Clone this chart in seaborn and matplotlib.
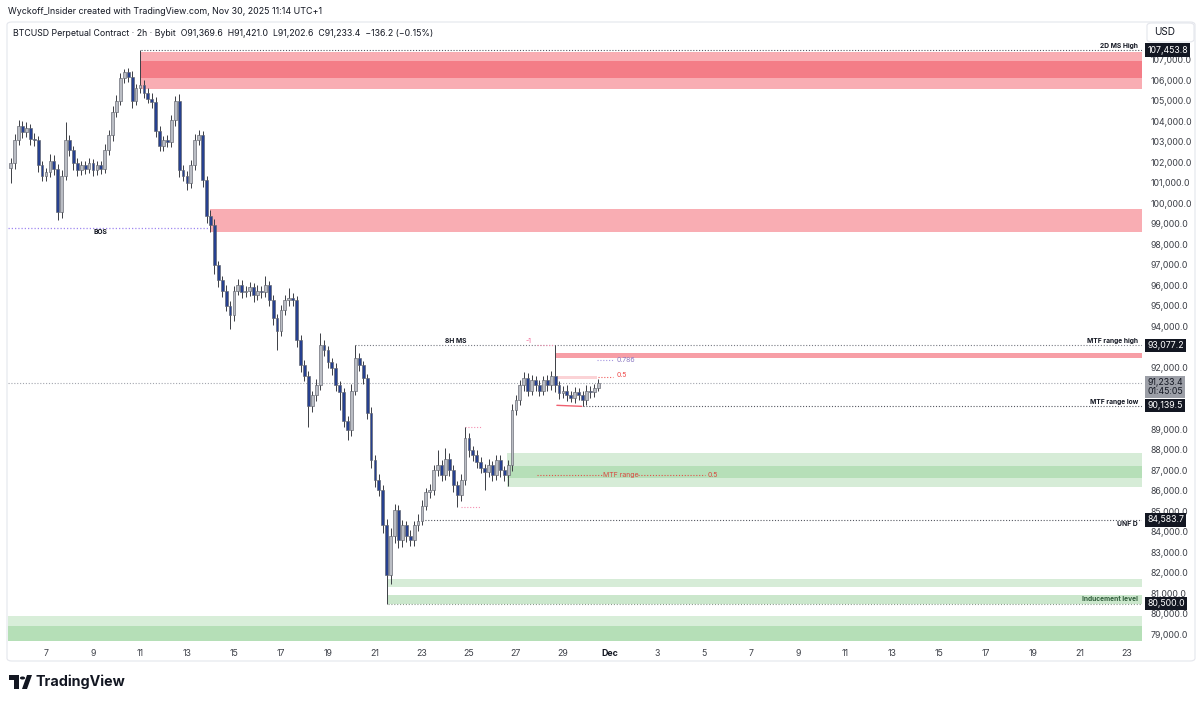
import numpy as np
import pandas as pd
import matplotlib
matplotlib.use("Agg")
import matplotlib.pyplot as plt
import matplotlib.dates as mdates
import matplotlib.transforms as mtransforms
from matplotlib.patches import FancyBboxPatch, Polygon, Circle
import seaborn as sns

# BTCUSD, resampled to 4h bars from the 2h chart
START = "2025-11-05 12:00"
FIRST_OPEN = 101700
closes = [
    101940, 103060, 103740, 103450, 103640, 103150, 103060, 101840, 101350, 101500,
    102080, 101690, 99550, 101350, 103060, 102570, 101940, 101600, 101840, 101690,
    101940, 101600, 101840, 101690, 102570, 103300, 104420, 105000, 106080, 106370,
    106170, 105000, 105590, 105780, 105390, 105100, 104910, 103540, 102810, 103060,
    102960, 104030, 105000, 101600, 101350, 101010, 101840, 103060, 103300, 101110,
    99400, 98920, 96970, 96240, 95750, 95020, 94540, 95750, 96000, 95660,
    95750, 95900, 95510, 95750, 95660, 96000, 95270, 94390, 93800, 94780,
    95270, 95410, 95270, 93320, 92100, 91610, 90150, 90640, 91130, 93080,
    92830, 92250, 91960, 91130, 90790, 89420, 88940, 90880, 92440, 92100,
    91470, 89810, 87480, 86500, 86020, 84310, 81880, 83820, 85040, 83580,
    84310, 83820, 83580, 84310, 84550, 85280, 85920, 86020, 86990, 87230,
    86750, 87570, 86990, 86260, 85770, 86500, 88550, 87960, 87720, 87380,
    87090, 86890, 87230, 86750, 87480, 86990, 86750, 87230, 89910, 90400,
    91130, 91470, 90880, 91370, 91130, 90880, 91370, 91130, 91610, 91130,
    90740, 90880, 90640, 90540, 90790, 90640, 90400, 90880, 90790, 90980,
    91233.4,
]
upper_wick = [
    250, 300, 320, 260, 300, 200, 250, 200, 240, 220,
    300, 250, 200, 250, 900, 260, 200, 240, 200, 220,
    250, 200, 240, 200, 300, 250, 300, 280, 260, 150,
    220, 260, 240, 1673.8, 220, 200, 250, 240, 200, 220,
    250, 260, 200, 300, 250, 220, 280, 300, 250, 200,
    200, 260, 300, 200, 240, 250, 200, 230, 300, 250,
    220, 250, 200, 260, 240, 480, 220, 250, 200, 260,
    250, 440, 220, 200, 260, 250, 230, 240, 300, 580,
    250, 230, 200, 250, 220, 200, 240, 300, 637.2, 250,
    220, 200, 260, 250, 300, 250, 300, 350, 320, 250,
    250, 230, 260, 240, 300, 250, 220, 300, 280, 730,
    250, 490, 260, 250, 220, 300, 530, 250, 230, 260,
    250, 220, 300, 240, 250, 260, 230, 280, 300, 250,
    260, 300, 240, 260, 230, 250, 220, 260, 240, 1467.2,
    200, 220, 250, 230, 260, 200, 220, 250, 210, 230,
    187.6,
]
lower_wick = [
    690, 250, 200, 280, 220, 300, 250, 300, 280, 250,
    220, 300, 390, 250, 220, 260, 300, 250, 220, 280,
    240, 280, 230, 260, 200, 220, 250, 240, 230, 220,
    260, 350, 240, 220, 280, 240, 260, 300, 280, 250,
    230, 220, 250, 300, 280, 350, 250, 220, 240, 300,
    350, 300, 400, 300, 320, 280, 640, 250, 230, 280,
    240, 260, 300, 220, 270, 230, 280, 300, 970, 250,
    230, 250, 280, 300, 320, 280, 1070, 300, 250, 220,
    260, 280, 300, 250, 880, 300, 490, 250, 220, 260,
    280, 300, 350, 300, 280, 350, 1380, 400, 350, 380,
    300, 320, 280, 260, 250, 240, 230, 280, 220, 260,
    280, 230, 260, 300, 585, 250, 220, 300, 280, 260,
    250, 870, 240, 280, 230, 300, 260, 500, 250, 220,
    230, 260, 280, 240, 250, 270, 230, 250, 240, 300,
    250, 230, 260, 240, 250, 230, 260.5, 220, 250, 230,
    120,
]

# key levels
HIGH_2D = 107453.8
MTF_HIGH = 93077.2
MTF_LOW = 90139.5
UNF_D = 84583.7
INDUCEMENT = 80500.0
LAST = 91233.4
BOS_LEVEL = 98795
MTF_MID = 86745
FIB_786 = 92390
FIB_05 = 91560
SWING_HI = 89080
SWING_LO = 85185

# zones: (start, low, high), start given as day of November
supply_outer = (11.04, 105560, 107380)
supply_inner = (11.04, 106100, 106930)
supply_2 = (13.98, 98600, 99720)
range_band = (28.70, 92480, 92700)
half_band = (28.74, 91420, 91600)
demand_outer = (26.62, 86180, 87840)
demand_inner = (26.62, 86620, 87210)
induce_1 = (21.55, 81310, 81700)
induce_2 = (21.55, 80484, 80920)
weekly_light = (79414, 79900)
weekly_dark = (78684, 79414)

price_ticks = [79000, 80000, 81000, 82000, 83000, 84000, 85000, 86000, 87000, 88000,
               89000, 92000, 94000, 95000, 96000, 97000, 98000, 99000, 100000, 101000,
               102000, 103000, 104000, 105000, 106000, 107000]
tick_days = [7, 9, 11, 13, 15, 17, 19, 21, 23, 25, 27, 29, 31, 33, 35, 37, 39, 41, 43, 45,
             47, 49, 51, 53]
tick_labels = ["7", "9", "11", "13", "15", "17", "19", "21", "23", "25", "27", "29", "Dec",
               "3", "5", "7", "9", "11", "13", "15", "17", "19", "21", "23"]

HEADER = "Wyckoff_Insider created with TradingView.com, Nov 30, 2025 11:14 UTC+1"
TITLE = ("BTCUSD Perpetual Contract \u00b7 2h \u00b7 Bybit  O91,369.6  H91,421.0  "
         "L91,202.6  C91,233.4  \u2212136.2 (\u22120.15%)")


def day(d):
    return mdates.date2num(pd.Timestamp("2025-11-01") + pd.Timedelta(days=d - 1))


sns.set_theme(style="white")
plt.rcParams["font.family"] = ["Inter", "DejaVu Sans"]
INK = "#131722"
W, H = 1200, 704

fig = plt.figure(figsize=(12, 7.04), dpi=100)
fx = lambda x: x / W
fy = lambda y: 1 - y / H
ax = fig.add_axes([fx(8), fy(643), (1142 - 8) / W, (643 - 42) / H])
XL, XR = day(5.383), day(53.64)
ax.set_xlim(XL, XR)
ax.set_ylim(78586, 107852)
blend = mtransforms.blended_transform_factory(ax.transAxes, ax.transData)


def zone(z, color, full=False):
    if full:
        x0, lo, hi = XL, z[0], z[1]
    else:
        x0, lo, hi = day(z[0]), z[1], z[2]
    ax.fill_between([x0, XR], lo, hi, color=color, lw=0, zorder=1)


def level(y, color, d0=None, d1=None, lw=0.8, ls=(0, (1, 1.6))):
    x0 = XL if d0 is None else day(d0)
    x1 = XR if d1 is None else day(d1)
    ax.plot([x0, x1], [y, y], color=color, lw=lw, ls=ls, zorder=3)


# zones
zone(supply_outer, "#f9adb3")
zone(supply_inner, "#f47d87")
zone(supply_2, "#f9adb3")
zone(range_band, "#f79ea6")
ax.fill_between([day(half_band[0]), day(30.45)], half_band[1], half_band[2], color="#fbd3d6", lw=0, zorder=1)
zone(demand_outer, "#d6ecd7")
zone(demand_inner, "#b6dfb8")
zone(induce_1, "#d6ecd7")
zone(induce_2, "#cbe7cc")
zone(weekly_light, "#d8eed9", full=True)
zone(weekly_dark, "#b5dfb7", full=True)

# levels
level(HIGH_2D, "#555861", d0=11.04)
level(BOS_LEVEL, "#9f86f0", d1=14.06, lw=0.9)
level(MTF_HIGH, "#777a83", d0=20.15)
level(LAST, "#a3a6ae")
level(MTF_LOW, "#555861", d0=29.85)
level(UNF_D, "#555861", d0=23.0)
level(INDUCEMENT, "#8a9a8c", d0=21.55)
level(MTF_HIGH, "#f48fb1", d0=27.89, d1=28.62)
level(FIB_786, "#a596e0", d0=30.45, d1=31.13)
level(FIB_05, "#ef5a5a", d0=30.5, d1=31.13)
level(MTF_MID, "#e0524a", d0=27.89, d1=30.7)
level(MTF_MID, "#e0524a", d0=32.2, d1=35.04)
level(SWING_HI, "#f48fb1", d0=24.83, d1=25.51)
level(SWING_LO, "#f48fb1", d0=24.66, d1=25.47)
ax.plot([day(28.74), day(29.8)], [90160, 90110], color="#f06070", lw=1.0, zorder=3)

# candles
times = pd.date_range(START, periods=len(closes), freq="4h")
t = mdates.date2num(times)
c = np.array(closes, float)
o = np.r_[FIRST_OPEN, c[:-1]]
hi = np.maximum(o, c) + np.array(upper_wick)
lo = np.minimum(o, c) - np.array(lower_wick)
up = c >= o
ax.vlines(t, lo, hi, color="#3b3d44", lw=0.7, zorder=4)
ax.bar(t, np.maximum(np.abs(c - o), 40), bottom=np.minimum(o, c), width=0.12,
       color=np.where(up, "#babdc4", "#26408f"), edgecolor="#62656e", linewidth=0.45, zorder=5)

# in-chart labels
small = dict(fontsize=4.8, fontweight="bold", color=INK, zorder=8)
ax.text(0.9965, HIGH_2D + 80, "2D MS High", transform=blend, ha="right", va="bottom", **small)
ax.text(0.9965, MTF_HIGH + 80, "MTF range high", transform=blend, ha="right", va="bottom", **small)
ax.text(0.9965, MTF_LOW + 60, "MTF range low", transform=blend, ha="right", va="bottom", **small)
ax.text(0.9965, UNF_D - 80, "UNF D", transform=blend, ha="right", va="top", **small)
ax.text(0.9965, INDUCEMENT + 60, "Inducement level", transform=blend, ha="right", va="bottom",
        fontsize=4.8, fontweight="bold", color="#2f5d3a", zorder=8)
ax.text(day(9.3), BOS_LEVEL - 60, "BOS", ha="center", va="top", **small)
ax.text(day(24.45), MTF_HIGH + 60, "8H MS", ha="center", va="bottom", **small)
ax.text(day(27.55), MTF_HIGH + 60, "-1", ha="center", va="bottom", fontsize=5, color="#f06292")
ax.text(day(31.3), FIB_786, "0.786", ha="left", va="center", fontsize=5, color="#8e7cc3")
ax.text(day(31.3), FIB_05 + 60, "0.5", ha="left", va="center", fontsize=5, color="#ef4a4a")
ax.text(day(31.45), MTF_MID, "MTF range", ha="center", va="center", fontsize=5, color="#d9483f")
ax.text(day(35.38), MTF_MID, "0.5", ha="center", va="center", fontsize=5, color="#d9483f")

# axes styling
for s in ax.spines.values():
    s.set_visible(False)
ax.grid(False)
ax.yaxis.tick_right()
ax.set_yticks(price_ticks)
ax.set_yticklabels([f"{v:,.1f}" for v in price_ticks])
ax.tick_params(axis="y", length=0, pad=6, labelsize=6.3, labelcolor="#3c3f47")
ax.set_xticks([day(d) for d in tick_days])
ax.set_xticklabels(tick_labels)
ax.tick_params(axis="x", length=0, pad=4, labelsize=6.3, labelcolor="#3c3f47")
for lab in ax.get_xticklabels():
    if lab.get_text() == "Dec":
        lab.set_fontweight("bold")
        lab.set_color(INK)


def price_tag(y, txt, fc=INK, tc="white", va="center"):
    ax.text(1.0046, y, txt, transform=blend, ha="left", va=va, fontsize=6.3, color=tc,
            linespacing=1.05, bbox=dict(boxstyle="square,pad=0.25", fc=fc, ec="none"),
            clip_on=False, zorder=10)


price_tag(HIGH_2D, "107,453.8")
price_tag(MTF_HIGH, "93,077.2")
price_tag(LAST + 260, "91,233.4\n01:45:05", fc="#9c9fa7", tc=INK, va="top")
price_tag(MTF_LOW, "90,139.5")
price_tag(UNF_D, "84,583.7")
price_tag(INDUCEMENT, "80,500.0")

# frame, header and branding
fig.patches.append(FancyBboxPatch((fx(7), fy(661)), (1195 - 7) / W, (661 - 22) / H,
                                  boxstyle="round,pad=0,rounding_size=0.004",
                                  transform=fig.transFigure, fill=False, ec="#e4e6ec", lw=0.8))
fig.patches.append(FancyBboxPatch((fx(1147), fy(42)), 47 / W, 19 / H,
                                  boxstyle="round,pad=0,rounding_size=0.004",
                                  transform=fig.transFigure, fill=False, ec="#e4e6ec", lw=0.8))
fig.text(fx(1154), fy(32), "USD", fontsize=7.2, color=INK, va="center")
fig.text(fx(8), fy(12), HEADER, fontsize=6.4, color=INK, va="center")
fig.text(fx(13), fy(33), TITLE, fontsize=6.3, color=INK, va="center")

logo = [Polygon([(fx(9), fy(675)), (fx(19), fy(675)), (fx(19), fy(689)), (fx(14), fy(689)),
                 (fx(14), fy(680)), (fx(9), fy(680))], closed=True),
        Polygon([(fx(22), fy(689)), (fx(27), fy(675)), (fx(32), fy(675)), (fx(27), fy(689))], closed=True)]
for p in logo:
    p.set_transform(fig.transFigure)
    p.set_facecolor(INK)
    p.set_edgecolor("none")
    fig.patches.append(p)
dot = Circle((fx(22.5), fy(678)), 2.6 / W, transform=fig.transFigure, fc=INK, ec="none")
fig.patches.append(dot)
fig.text(fx(35), fy(682), "TradingView", fontsize=10.3, fontweight="bold", color=INK, va="center")

fig.savefig("out.png", dpi=100)
